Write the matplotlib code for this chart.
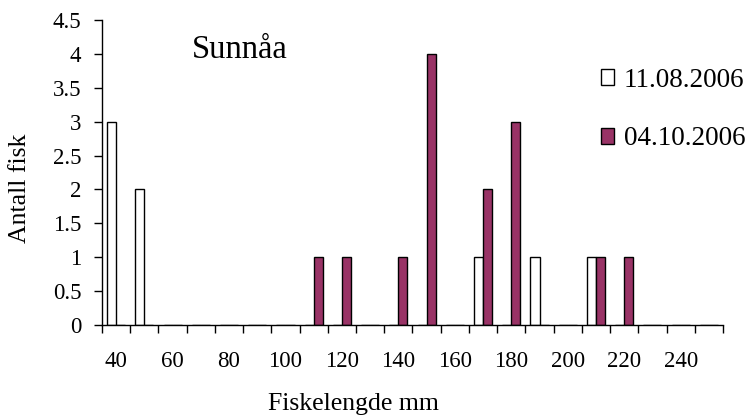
import numpy as np
import matplotlib
matplotlib.use("Agg")
import matplotlib.pyplot as plt
from matplotlib.patches import Patch

# fish length classes (mm), one category per 10 mm
lengths = [40, 50, 60, 70, 80, 90, 100, 110, 120, 130, 140,
           150, 160, 170, 180, 190, 200, 210, 220, 230, 240, 250]
aug_counts = [3, 2, 0, 0, 0, 0, 0, 0, 0, 0, 0,
              0, 0, 1, 0, 1, 0, 1, 0, 0, 0, 0]
oct_counts = [0, 0, 0, 0, 0, 0, 0, 1, 1, 0, 1,
              4, 0, 2, 3, 0, 0, 1, 1, 0, 0, 0]
series_labels = ["11.08.2006", "04.10.2006"]
y_ticks = [0, 0.5, 1, 1.5, 2, 2.5, 3, 3.5, 4, 4.5]

plt.rcParams['font.family'] = ['Liberation Serif', 'DejaVu Serif']
purple = "#993366"

fig = plt.figure(figsize=(7.49, 4.17), dpi=100)
ax = fig.add_axes([102/749, 1-325/417, (723-102)/749, (325-20)/417])

x = np.arange(len(lengths))
w = 0.32
ax.bar(x - w/2, aug_counts, w, color="white", edgecolor="black", linewidth=1)
ax.bar(x + w/2, oct_counts, w, color=purple, edgecolor="black", linewidth=1)

ax.set_xlim(-0.5, len(lengths) - 0.5)
ax.set_ylim(0, 4.5)
ax.set_yticks(y_ticks)
ax.set_yticklabels([("%g" % v) for v in y_ticks], fontsize=16.5)

# tick marks between categories, labels on every other category
ax.set_xticks(np.arange(len(lengths) + 1) - 0.5)
ax.set_xticklabels([])
ax.set_xticks(x[::2], minor=True)
ax.set_xticklabels([str(v) for v in lengths[::2]], minor=True, fontsize=16.5)
ax.tick_params(axis="x", which="major", direction="out", length=6, width=1)
ax.tick_params(axis="x", which="minor", length=0, pad=19)
ax.tick_params(axis="y", direction="out", length=6, width=1, pad=9)

for s in ["top", "right"]:
    ax.spines[s].set_visible(False)
for s in ["left", "bottom"]:
    ax.spines[s].set_linewidth(1)

fig.text(20/749, 1-188/417, "Antall fisk", rotation=90, fontsize=18.5,
         ha="center", va="center")
fig.text(353/749, 1-404/417, "Fiskelengde mm", fontsize=18.5,
         ha="center", va="center")
fig.text(192/749, 1-50/417, "Sunnåa", fontsize=23.5, ha="left", va="center")

handles = [Patch(facecolor="white", edgecolor="black", linewidth=1),
           Patch(facecolor=purple, edgecolor="black", linewidth=1)]
fig.legend(handles, series_labels, loc="upper left",
           bbox_to_anchor=(587/749, 1-54/417), frameon=False, fontsize=19.5,
           handlelength=0.5, handleheight=0.5, handletextpad=0.35,
           labelspacing=1.25, borderpad=0)

fig.savefig("out.png", dpi=100)
